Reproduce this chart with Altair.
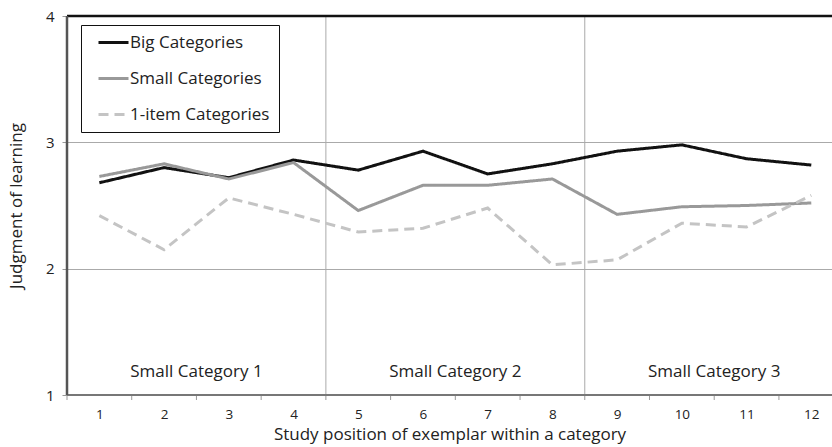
import altair as alt
import pandas as pd

positions = list(range(1, 13))
big = [2.68, 2.80, 2.72, 2.86, 2.78, 2.93, 2.75, 2.83, 2.93, 2.98, 2.87, 2.82]
small = [2.73, 2.83, 2.71, 2.84, 2.46, 2.66, 2.66, 2.71, 2.43, 2.49, 2.50, 2.52]
one_item = [2.42, 2.15, 2.56, 2.43, 2.29, 2.32, 2.48, 2.03, 2.07, 2.36, 2.33, 2.58]
series_names = ["Big Categories", "Small Categories", "1-item Categories"]
section_labels = ["Small Category 1", "Small Category 2", "Small Category 3"]
section_centers = [2.5, 6.5, 10.5]
section_bounds = [4.5, 8.5]
band_edges = [0.5 + i for i in range(13)]

rows = []
for name, vals in zip(series_names, [big, small, one_item]):
    for p, v in zip(positions, vals):
        rows.append({"position": p, "value": v, "series": name})
df = pd.DataFrame(rows)

FONT = "Open Sans"
XMIN, XMAX = 0.5, 12.32
W, H = 765, 379

xscale = alt.Scale(domain=[XMIN, XMAX], nice=False, zero=False)
yscale = alt.Scale(domain=[1, 4], nice=False, zero=False)

lines = alt.Chart(df).mark_line(strokeWidth=3).encode(
    x=alt.X("position:Q", scale=xscale,
            axis=alt.Axis(values=positions, format="d", ticks=False, grid=False, domain=False,
                          labelFontSize=13.5, labelPadding=12, labelColor="#222",
                          title="Study position of exemplar within a category",
                          titleFontSize=17, titleFontWeight="normal", titleColor="#222",
                          titlePadding=6, labelFont=FONT, titleFont=FONT)),
    y=alt.Y("value:Q", scale=yscale,
            axis=alt.Axis(values=[1, 2, 3, 4], format="d", grid=True, gridColor="#aaaaaa",
                          gridWidth=1, domain=False, tickColor="#999999", tickSize=5,
                          labelFontSize=15, labelPadding=8, labelColor="#222",
                          title="Judgment of learning", titleFontSize=17,
                          titleFontWeight="normal", titleColor="#222", titlePadding=20,
                          labelFont=FONT, titleFont=FONT)),
    color=alt.Color("series:N", sort=series_names,
                    scale=alt.Scale(domain=series_names, range=["#111111", "#999999", "#c4c4c4"]),
                    legend=alt.Legend(title=None, orient="none", legendX=14, legendY=9,
                                      strokeColor="#111111", padding=9, fillColor="white",
                                      symbolType="M0,0L6,0", symbolSize=100,
                                      symbolStrokeWidth=3, rowPadding=18,
                                      labelOffset=23, labelFontSize=17, labelFont=FONT,
                                      labelColor="#222")),
    strokeDash=alt.StrokeDash("series:N", sort=series_names,
                              scale=alt.Scale(domain=series_names,
                                              range=[[1, 0], [1, 0], [10, 6]]),
                              legend=None),
    order=alt.Order("series:N"),
)

sep_df = pd.DataFrame({"x": section_bounds})
separators = alt.Chart(sep_df).mark_rule(color="#aaaaaa", strokeWidth=1).encode(
    x=alt.X("x:Q", scale=xscale)
)

tick_df = pd.DataFrame({"x": [e for e in band_edges if e <= XMAX]})
xticks = alt.Chart(tick_df).mark_rule(color="#999999", strokeWidth=1).encode(
    x=alt.X("x:Q", scale=xscale),
    y=alt.value(H),
    y2=alt.value(H + 5),
)

lab_df = pd.DataFrame({"x": section_centers, "label": section_labels, "y": [1.18] * 3})
section_text = alt.Chart(lab_df).mark_text(fontSize=17, font=FONT, color="#222").encode(
    x=alt.X("x:Q", scale=xscale),
    y=alt.Y("y:Q", scale=yscale),
    text="label:N",
)

top_border = alt.Chart(pd.DataFrame({"y": [4]})).mark_rule(color="#111111", strokeWidth=2.5).encode(
    y=alt.Y("y:Q", scale=yscale)
)
bottom_axis = alt.Chart(pd.DataFrame({"y": [1]})).mark_rule(color="#777777", strokeWidth=2).encode(
    y=alt.Y("y:Q", scale=yscale)
)
left_axis = alt.Chart(pd.DataFrame({"x": [XMIN]})).mark_rule(color="#555555", strokeWidth=2.5).encode(
    x=alt.X("x:Q", scale=xscale)
)

chart = alt.layer(
    separators, xticks, bottom_axis, section_text, lines, top_border, left_axis
).properties(
    width=W, height=H,
    padding={"left": 67, "top": 16, "right": 0, "bottom": 52},
    autosize=alt.AutoSizeParams(type="none"),
).configure_view(stroke=None).configure(background="white")

chart.save("out.html", embed_options={"renderer": "svg", "actions": False})
